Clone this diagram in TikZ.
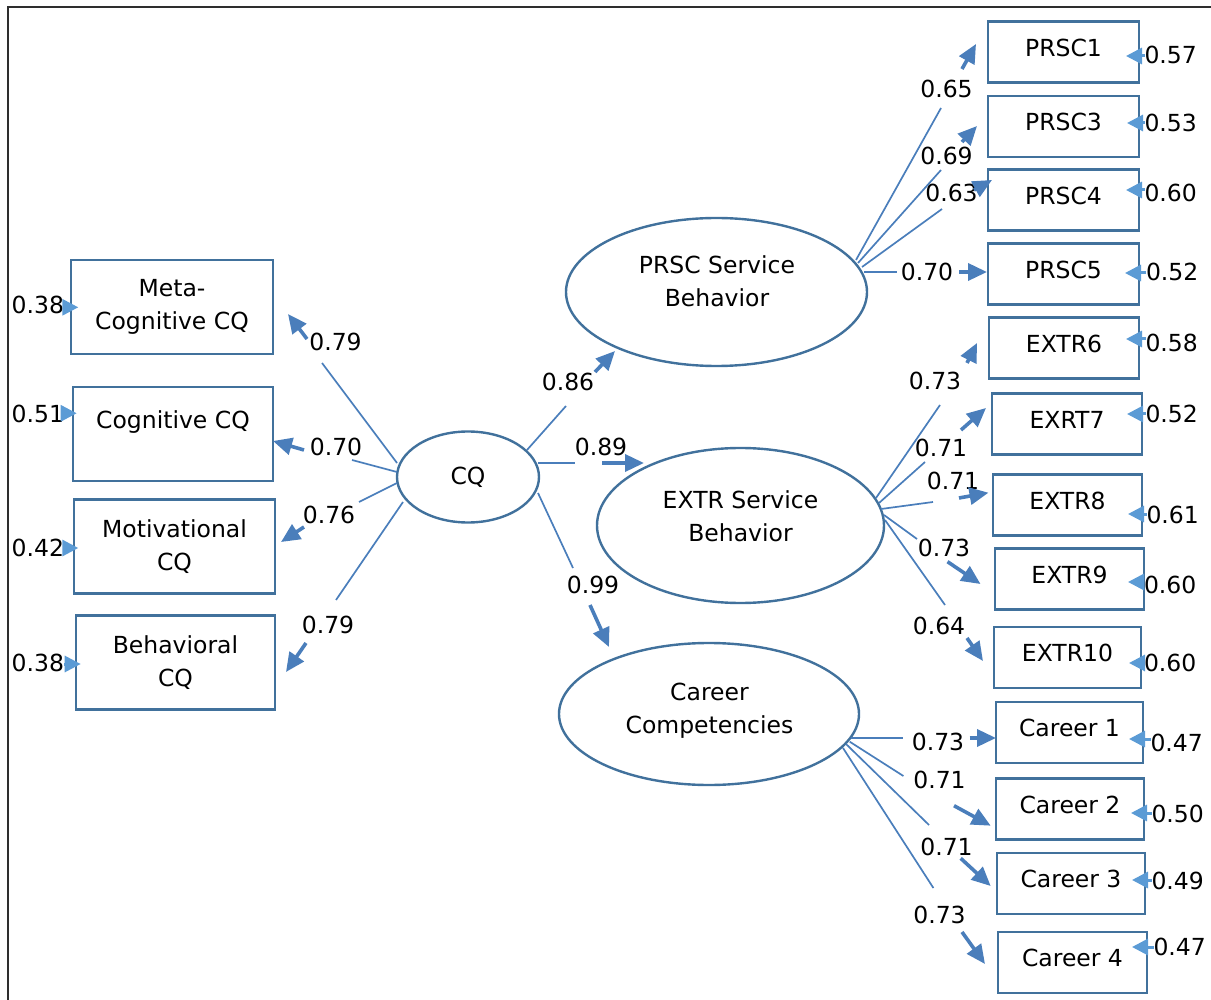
\documentclass[tikz,border=0pt]{standalone}
\usepackage{fontspec}
\setmainfont{DejaVu Sans}
\usetikzlibrary{arrows.meta,shapes.geometric}

\definecolor{shapeline}{HTML}{41719C}
\definecolor{pathblue}{HTML}{4A7EBB}
\definecolor{errblue}{HTML}{5B9BD5}
\definecolor{framegray}{HTML}{2E2E2E}

% one standardized loading: thin line from the latent variable, the
% coefficient, then a short arrow into the indicator
% #1 name, #2 start, #3 end of thin line, #4 coefficient position,
% #5 coefficient, #6 arrow start, #7 arrow tip
\newcommand\loadline[7]{%
  \coordinate (#1-s) at #2;
  \coordinate (#1-m) at #3;
  \node[coef] (#1-c) at #4 {#5};
  \coordinate (#1-a) at #6;
  \coordinate (#1-t) at #7;
  \draw[link] (#1-s) -- (#1-m);
  \draw[load] (#1-a) -- (#1-t);
}
% error variance on the right of an indicator
% #1 name, #2 label west point, #3 value, #4 arrow tip
\newcommand\errright[4]{%
  \node[coef, anchor=west] (#1) at #2 {#3};
  \coordinate (#1-t) at #4;
  \draw[errarr] (#1.west |- #1-t) -- (#1-t);
}
% error variance on the left of an indicator
\newcommand\errleft[4]{%
  \node[coef, anchor=east] (#1) at #2 {#3};
  \coordinate (#1-t) at #4;
  \draw[errarr] (#1.east |- #1-t) -- (#1-t);
}

\begin{document}
\begin{tikzpicture}[x=1pt,y=-1pt,
  every node/.style={font=\fontsize{23.5}{33}\selectfont, inner sep=0pt, outer sep=0pt},
  obs/.style={draw=shapeline, line width=2.4pt, rectangle, align=center},
  lobs/.style={obs, minimum height=94pt},
  robs/.style={obs, minimum height=61pt, text height=17pt, text depth=8.2pt},
  latent/.style={draw=shapeline, line width=2.4pt, ellipse},
  ltext/.style={align=center},
  coef/.style={},
  link/.style={draw=pathblue, line width=1.7pt},
  load/.style={draw=pathblue, line width=3.6pt, -{Triangle[length=19pt,width=17pt]}},
  errarr/.style={draw=errblue, line width=3pt, -{Triangle[length=16pt,width=16pt]}},
]
\useasboundingbox (0,0) rectangle (1211,1000);

% frame
\draw[framegray, line width=2pt] (7.5,1000) -- (7.5,7.5) -- (1211,7.5);

% first-order indicators of CQ
\node[lobs, minimum width=202pt] (meta) at (172,307) {Meta-\\Cognitive CQ};
\node[lobs, minimum width=200pt, text height=17pt, text depth=27.2pt] (cog) at (173,434) {Cognitive CQ};
\node[lobs, minimum width=201pt] (mot) at (174.5,546.5) {Motivational\\CQ};
\node[lobs, minimum width=199pt] (beh) at (175.5,662.5) {Behavioral\\CQ};

% latent variables
\node[latent, minimum width=142pt, minimum height=91pt] (cq) at (468,477) {CQ};
\node[latent, minimum width=301pt, minimum height=148pt] (prsc) at (716.5,292) {};
\node[ltext] (prsc-t) at (717,281.5) {PRSC Service\\Behavior};
\node[latent, minimum width=287pt, minimum height=155pt] (extr) at (740.5,525.5) {};
\node[ltext] (extr-t) at (740.5,516) {EXTR Service\\Behavior};
\node[latent, minimum width=300pt, minimum height=142pt] (career) at (709,714) {};
\node[ltext] (career-t) at (709.5,710.5) {Career\\Competencies};

% indicators on the right
\node[robs, minimum width=151pt] (prsc1) at (1063.5,52) {PRSC1};
\node[robs, minimum width=151pt] (prsc3) at (1063.5,126.5) {PRSC3};
\node[robs, minimum width=151pt] (prsc4) at (1063.5,200) {PRSC4};
\node[robs, minimum width=151pt] (prsc5) at (1063.5,274) {PRSC5};
\node[robs, minimum width=150pt] (extr6) at (1064,348) {EXTR6};
\node[robs, minimum width=150pt] (exrt7) at (1067,424) {EXRT7};
\node[robs, minimum width=149pt] (extr8) at (1067.5,505) {EXTR8};
\node[robs, minimum width=149pt] (extr9) at (1069.5,579) {EXTR9};
\node[robs, minimum width=147pt] (extr10) at (1067.5,657.5) {EXTR10};
\node[robs, minimum width=147pt] (car1) at (1069.5,732.5) {Career 1};
\node[robs, minimum width=148pt] (car2) at (1070,809) {Career 2};
\node[robs, minimum width=148pt] (car3) at (1071,883.5) {Career 3};
\node[robs, minimum width=149pt] (car4) at (1072.5,962.5) {Career 4};

% CQ -> its dimensions
\loadline{lm}{(397,463)}{(322,363)}{(335.5,341.5)}{0.79}{(307,339)}{(288,314)}
\loadline{lc}{(397,472)}{(352,460)}{(336,447)}{0.70}{(304,450)}{(273,441)}
\loadline{lmo}{(397,483)}{(359,502)}{(329,515)}{0.76}{(304,527)}{(281,542)}
\loadline{lb}{(403,502)}{(336,600)}{(328,624.5)}{0.79}{(306,643)}{(286,672)}

% CQ -> outcomes
\loadline{cp}{(527,450)}{(566,406)}{(568,382)}{0.86}{(595,372)}{(615,351)}
\loadline{ce}{(538,463)}{(575,463)}{(601,447)}{0.89}{(602,463)}{(644,463)}
\loadline{cc}{(538,493)}{(573,568)}{(593,585)}{0.99}{(590,605)}{(609,647)}

% PRSC Service Behavior -> items
\loadline{p1}{(856,260)}{(941,108)}{(946.5,88.5)}{0.65}{(962,69)}{(976,44)}
\loadline{p3}{(858,263)}{(941,170)}{(946.5,155.5)}{0.69}{(962,142)}{(977,126)}
\loadline{p4}{(862,267)}{(942,209)}{(951.5,192.5)}{0.63}{(974,190)}{(992,180)}
\loadline{p5}{(864,272)}{(897,272)}{(927,271.5)}{0.70}{(959,272)}{(987,272)}

% EXTR Service Behavior -> items
\loadline{e6}{(876,498)}{(940,405)}{(935,381)}{0.73}{(967,363)}{(977,343)}
\loadline{e7}{(879,503)}{(925,462)}{(941,447.5)}{0.71}{(961,430)}{(986,408)}
\loadline{e8}{(881,509)}{(933,502)}{(953,480.5)}{0.71}{(959,498)}{(988.5,492.7)}
\loadline{e9}{(884,515)}{(917,539)}{(944,547.5)}{0.73}{(947.5,561.7)}{(980.5,584)}
\loadline{e10}{(885,520)}{(945,605)}{(939,625.5)}{0.64}{(967,638)}{(983,661)}

% Career Competencies -> items
\loadline{k1}{(850.5,738)}{(903,738)}{(938,742)}{0.73}{(969.5,738)}{(996,738)}
\loadline{k2}{(849.7,741.7)}{(903.4,776)}{(939.5,779.5)}{0.71}{(954,805.7)}{(990.7,825.7)}
\loadline{k3}{(846,744)}{(929,825)}{(946.5,846.5)}{0.71}{(960.7,858.3)}{(990.7,886)}
\loadline{k4}{(843,748)}{(933.4,888)}{(939.5,914.7)}{0.73}{(962,932)}{(985,964)}

% error variances, left
\errleft{em}{(64,305)}{0.38}{(78.3,307.3)}
\errleft{ec}{(64,414)}{0.51}{(76.7,413.3)}
\errleft{emo}{(64,547.7)}{0.42}{(78.3,548)}
\errleft{eb}{(64,663)}{0.38}{(80.7,664)}

% error variances, right
\errright{r1}{(1144.5,55)}{0.57}{(1126,56)}
\errright{r3}{(1144.5,123)}{0.53}{(1127,123)}
\errright{r4}{(1144.5,193)}{0.60}{(1126,190)}
\errright{r5}{(1146,272)}{0.52}{(1125,273)}
\errright{r6}{(1145.5,343)}{0.58}{(1126,339)}
\errright{r7}{(1145.5,414)}{0.52}{(1127,414)}
\errright{r8}{(1146.5,515)}{0.61}{(1128,514)}
\errright{r9}{(1144,585)}{0.60}{(1128,582)}
\errright{r10}{(1144,663)}{0.60}{(1129,663)}
\errright{r11}{(1150.5,743)}{0.47}{(1129,739)}
\errright{r12}{(1151.5,814)}{0.50}{(1131,813)}
\errright{r13}{(1151.5,881)}{0.49}{(1132,880)}
\errright{r14}{(1153.5,947)}{0.47}{(1132,947)}
\end{tikzpicture}
\end{document}
